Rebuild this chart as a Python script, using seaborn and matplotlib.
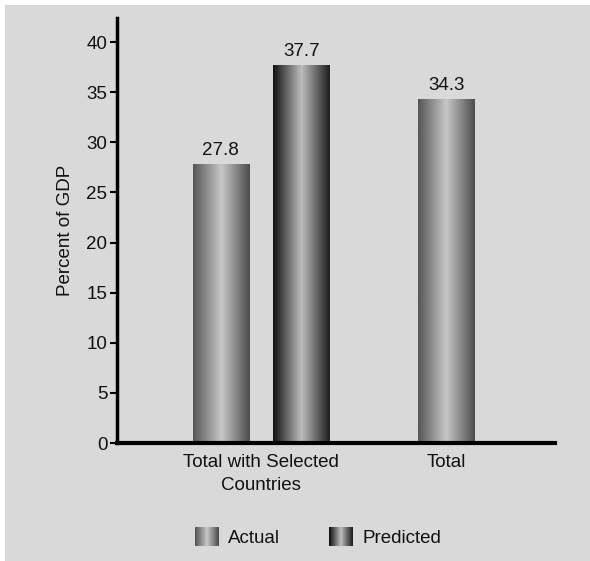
import numpy as np
import pandas as pd
import matplotlib
matplotlib.use("Agg")
import matplotlib.pyplot as plt
from matplotlib.patches import Rectangle, Patch
from matplotlib.legend_handler import HandlerBase
import seaborn as sns

# data
groups = ["Total with Selected\nCountries", "Total with Selected\nCountries", "Total"]
series = ["Actual", "Predicted", "Actual"]
values = [27.8, 37.7, 34.3]
yticks = [0, 5, 10, 15, 20, 25, 30, 35, 40]

# gradient profiles (left edge, centre, right edge) per series
shades = {"Actual": [0.34, 0.78, 0.30], "Predicted": [0.07, 0.74, 0.12]}
FS = 13.5


def gradient_row(name, n=200):
    t = np.linspace(0, 1, n)
    return np.interp(t, [0, 0.5, 1], shades[name])


class GradientHandler(HandlerBase):
    def create_artists(self, legend, orig_handle, xdescent, ydescent,
                       width, height, fontsize, trans):
        row = gradient_row(orig_handle.get_label(), 24)
        w = width / len(row)
        out = []
        for i, v in enumerate(row):
            r = Rectangle((-xdescent + i * w, -ydescent), w * 1.05, height,
                          facecolor=str(v), edgecolor="none", transform=trans)
            out.append(r)
        return out


sns.set_style("white")
plt.rcParams["font.family"] = ["Liberation Sans", "DejaVu Sans"]

df = pd.DataFrame({"group": groups, "series": series, "value": values})

fig = plt.figure(figsize=(5.9, 5.61), dpi=100)
fig.patch.set_facecolor("white")
fig.patches.append(Rectangle((5 / 590, 0), 1, (561 - 5) / 561, transform=fig.transFigure,
                             facecolor="#d9d9d9", edgecolor="none", zorder=-10))
ax = fig.add_axes([117 / 590, 118 / 561, 438 / 590, (443 - 18) / 561])
ax.set_facecolor("none")

sns.barplot(data=df, x="group", y="value", hue="series", hue_order=["Actual", "Predicted"],
            width=0.868, gap=0.30, dodge=True, legend=False, ax=ax)

for name, cont in zip(["Actual", "Predicted"], ax.containers):
    for bar in cont:
        h = bar.get_height()
        if not np.isfinite(h) or h == 0:
            continue
        cx = bar.get_x() + bar.get_width() / 2
        if round(cx) == 1:
            # single bar category sits centred on its tick
            bar.set_x(1 - bar.get_width() / 2)
        x0 = bar.get_x()
        w = bar.get_width()
        bar.set_facecolor("none")
        bar.set_edgecolor("none")
        ax.imshow(gradient_row(name)[None, :], cmap="gray", vmin=0, vmax=1,
                  extent=[x0, x0 + w, 0, h], aspect="auto", zorder=2,
                  interpolation="bilinear")
    ax.bar_label(cont, fmt="%.1f", padding=4, fontsize=FS, color="#111111")

ax.set_xlim(-0.776, 1.585)
ax.set_ylim(0, 42.4)
ax.set_yticks(yticks)
ax.tick_params(axis="y", direction="out", length=5, width=1.5, color="black",
               labelsize=FS, pad=2, labelcolor="#111111", left=True)
ax.tick_params(axis="x", length=0, labelsize=FS, pad=8, labelcolor="#111111")
for lab in ax.get_xticklabels():
    lab.set_linespacing(1.45)
ax.set_xlabel("")
ax.set_ylabel("Percent of GDP", fontsize=FS, labelpad=9, color="#111111")
sns.despine(ax=ax)
ax.spines["left"].set_linewidth(2.5)
ax.spines["bottom"].set_linewidth(3)
ax.spines["left"].set_color("black")
ax.spines["bottom"].set_color("black")

handles = [Patch(label="Actual"), Patch(label="Predicted")]
fig.legend(handles=handles, labels=["Actual", "Predicted"],
           handler_map={Patch: GradientHandler()}, loc="center",
           bbox_to_anchor=(318 / 590, (561 - 537) / 561), ncol=2, frameon=False,
           fontsize=FS, handlelength=1.28, handleheight=1.22, handletextpad=0.5,
           columnspacing=2.6, labelcolor="#111111")

fig.savefig("out.png", dpi=100, facecolor=fig.get_facecolor())
